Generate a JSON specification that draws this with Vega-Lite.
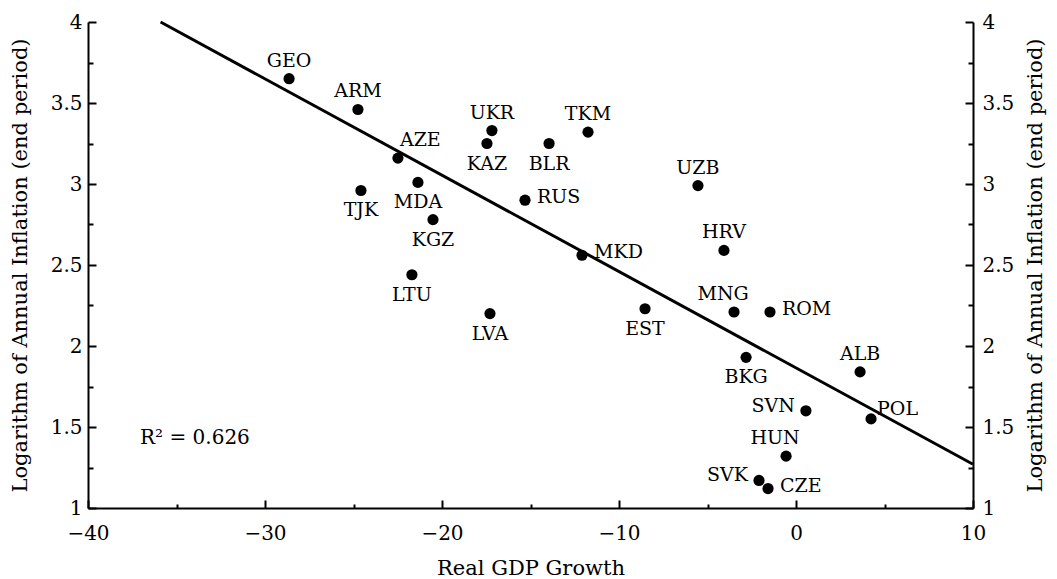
{
  "$schema": "https://vega.github.io/schema/vega-lite/v6.json",
  "width": 885,
  "height": 486,
  "autosize": {"type": "none"},
  "padding": {"left": 88, "top": 22, "right": 84, "bottom": 71},
  "background": "white",
  "config": {
    "view": {"stroke": null},
    "font": "DejaVu Serif",
    "axis": {
      "grid": false,
      "labelFlush": false,
      "domainColor": "black",
      "domainWidth": 2,
      "tickColor": "black",
      "tickWidth": 2,
      "labelColor": "black",
      "labelFont": "DejaVu Serif",
      "labelFontSize": 20,
      "titleFont": "DejaVu Serif",
      "titleFontSize": 21,
      "titleFontWeight": "normal",
      "titleColor": "black"
    },
    "text": {"font": "DejaVu Serif", "fontSize": 19, "color": "black"}
  },
  "datasets": {
    "countries": [
      {"code": "GEO", "growth": -28.64, "infl": 3.65, "pos": "above"},
      {"code": "ARM", "growth": -24.75, "infl": 3.46, "pos": "above"},
      {"code": "AZE", "growth": -22.49, "infl": 3.16, "pos": "ne"},
      {"code": "UKR", "growth": -17.18, "infl": 3.33, "pos": "above"},
      {"code": "KAZ", "growth": -17.46, "infl": 3.25, "pos": "below"},
      {"code": "TJK", "growth": -24.58, "infl": 2.96, "pos": "below"},
      {"code": "MDA", "growth": -21.36, "infl": 3.01, "pos": "below"},
      {"code": "KGZ", "growth": -20.51, "infl": 2.78, "pos": "below"},
      {"code": "LTU", "growth": -21.7, "infl": 2.44, "pos": "below"},
      {"code": "LVA", "growth": -17.29, "infl": 2.2, "pos": "below"},
      {"code": "RUS", "growth": -15.31, "infl": 2.9, "pos": "right"},
      {"code": "TKM", "growth": -11.75, "infl": 3.32, "pos": "above"},
      {"code": "BLR", "growth": -13.95, "infl": 3.25, "pos": "below"},
      {"code": "UZB", "growth": -5.54, "infl": 2.99, "pos": "above"},
      {"code": "HRV", "growth": -4.07, "infl": 2.59, "pos": "above"},
      {"code": "MKD", "growth": -12.09, "infl": 2.56, "pos": "right"},
      {"code": "EST", "growth": -8.53, "infl": 2.23, "pos": "below"},
      {"code": "MNG", "growth": -3.5, "infl": 2.21, "pos": "aboveleft"},
      {"code": "ROM", "growth": -1.47, "infl": 2.21, "pos": "right"},
      {"code": "BKG", "growth": -2.82, "infl": 1.93, "pos": "below"},
      {"code": "ALB", "growth": 3.62, "infl": 1.84, "pos": "above"},
      {"code": "SVN", "growth": 0.56, "infl": 1.6, "pos": "left"},
      {"code": "POL", "growth": 4.24, "infl": 1.55, "pos": "ene"},
      {"code": "HUN", "growth": -0.56, "infl": 1.32, "pos": "aboveleft"},
      {"code": "SVK", "growth": -2.09, "infl": 1.17, "pos": "left"},
      {"code": "CZE", "growth": -1.58, "infl": 1.12, "pos": "right"}
    ],
    "fit": [
      {"growth": -35.9, "infl": 4.0},
      {"growth": 10, "infl": 1.27}
    ],
    "note": [
      {"growth": -37.06, "infl": 1.43, "label": "R² = 0.626"}
    ]
  },
  "data": {"name": "countries"},
  "resolve": {"axis": {"x": "independent", "y": "independent"}},
  "layer": [
    {
      "data": {"name": "fit"},
      "mark": {"type": "line", "color": "black", "strokeWidth": 3},
      "encoding": {
        "x": {
          "field": "growth", "type": "quantitative",
          "scale": {"domain": [-40, 10], "nice": false, "zero": false},
          "axis": {
            "orient": "bottom",
            "values": [-40, -30, -20, -10, 0, 10],
            "format": "d",
            "tickSize": -8,
            "labelPadding": 23,
            "title": "Real GDP Growth",
            "titleX": 442.5,
            "titleY": 60,
            "titleBaseline": "middle",
            "titleAlign": "center"
          }
        },
        "y": {
          "field": "infl", "type": "quantitative",
          "scale": {"domain": [1, 4], "nice": false, "zero": false},
          "axis": {
            "orient": "left",
            "values": [1, 1.5, 2, 2.5, 3, 3.5, 4],
            "format": "~g",
            "tickSize": -8,
            "labelPadding": 14,
            "title": "Logarithm of Annual Inflation (end period)",
            "titleAngle": -90,
            "titleX": -68,
            "titleY": 243,
            "titleBaseline": "middle",
            "titleAlign": "center"
          }
        }
      }
    },
    {
      "mark": {"type": "circle", "size": 125, "color": "black", "opacity": 1},
      "encoding": {
        "x": {
          "field": "growth", "type": "quantitative",
          "scale": {"domain": [-40, 10], "nice": false, "zero": false},
          "axis": {
            "orient": "bottom",
            "values": [-35, -25, -15, -5, 5],
            "tickSize": -4,
            "labels": false,
            "domain": false,
            "title": null
          }
        },
        "y": {
          "field": "infl", "type": "quantitative",
          "scale": {"domain": [1, 4], "nice": false, "zero": false},
          "axis": {
            "orient": "left",
            "values": [1.25, 1.75, 2.25, 2.75, 3.25, 3.75],
            "tickSize": -5,
            "labels": false,
            "domain": false,
            "title": null
          }
        }
      }
    },
    {
      "data": {"name": "note"},
      "mark": {"type": "text", "align": "left", "baseline": "middle", "fontSize": 20},
      "encoding": {
        "text": {"field": "label"},
        "x": {
          "field": "growth", "type": "quantitative",
          "scale": {"domain": [-40, 10], "nice": false, "zero": false},
          "axis": null
        },
        "y": {
          "field": "infl", "type": "quantitative",
          "scale": {"domain": [1, 4], "nice": false, "zero": false},
          "axis": {
            "orient": "right",
            "values": [1, 1.5, 2, 2.5, 3, 3.5, 4],
            "format": "~g",
            "tickSize": -8,
            "labelPadding": 17,
            "title": "Logarithm of Annual Inflation (end period)",
            "titleAngle": -90,
            "titleX": 62,
            "titleY": 243,
            "titleBaseline": "middle",
            "titleAlign": "center"
          }
        }
      }
    },
    {
      "transform": [{"filter": "datum.pos === 'above'"}],
      "mark": {"type": "text", "align": "center", "baseline": "middle", "dy": -18},
      "encoding": {
        "text": {"field": "code"},
        "x": {"field": "growth", "type": "quantitative", "scale": {"domain": [-40, 10], "nice": false, "zero": false}, "axis": null},
        "y": {
          "field": "infl", "type": "quantitative",
          "scale": {"domain": [1, 4], "nice": false, "zero": false},
          "axis": {
            "orient": "right",
            "values": [1.25, 1.75, 2.25, 2.75, 3.25, 3.75],
            "tickSize": -5,
            "labels": false,
            "domain": false,
            "title": null
          }
        }
      }
    },
    {
      "transform": [{"filter": "datum.pos === 'aboveleft'"}],
      "mark": {"type": "text", "align": "center", "baseline": "middle", "dx": -11, "dy": -18},
      "encoding": {
        "text": {"field": "code"},
        "x": {"field": "growth", "type": "quantitative", "scale": {"domain": [-40, 10], "nice": false, "zero": false}, "axis": null},
        "y": {"field": "infl", "type": "quantitative", "scale": {"domain": [1, 4], "nice": false, "zero": false}, "axis": null}
      }
    },
    {
      "transform": [{"filter": "datum.pos === 'below'"}],
      "mark": {"type": "text", "align": "center", "baseline": "middle", "dy": 20},
      "encoding": {
        "text": {"field": "code"},
        "x": {"field": "growth", "type": "quantitative", "scale": {"domain": [-40, 10], "nice": false, "zero": false}, "axis": null},
        "y": {"field": "infl", "type": "quantitative", "scale": {"domain": [1, 4], "nice": false, "zero": false}, "axis": null}
      }
    },
    {
      "transform": [{"filter": "datum.pos === 'right'"}],
      "mark": {"type": "text", "align": "left", "baseline": "middle", "dx": 12, "dy": -3},
      "encoding": {
        "text": {"field": "code"},
        "x": {"field": "growth", "type": "quantitative", "scale": {"domain": [-40, 10], "nice": false, "zero": false}, "axis": null},
        "y": {"field": "infl", "type": "quantitative", "scale": {"domain": [1, 4], "nice": false, "zero": false}, "axis": null}
      }
    },
    {
      "transform": [{"filter": "datum.pos === 'left'"}],
      "mark": {"type": "text", "align": "right", "baseline": "middle", "dx": -11, "dy": -5},
      "encoding": {
        "text": {"field": "code"},
        "x": {"field": "growth", "type": "quantitative", "scale": {"domain": [-40, 10], "nice": false, "zero": false}, "axis": null},
        "y": {"field": "infl", "type": "quantitative", "scale": {"domain": [1, 4], "nice": false, "zero": false}, "axis": null}
      }
    },
    {
      "transform": [{"filter": "datum.pos === 'ne'"}],
      "mark": {"type": "text", "align": "left", "baseline": "middle", "dx": 2, "dy": -18},
      "encoding": {
        "text": {"field": "code"},
        "x": {"field": "growth", "type": "quantitative", "scale": {"domain": [-40, 10], "nice": false, "zero": false}, "axis": null},
        "y": {"field": "infl", "type": "quantitative", "scale": {"domain": [1, 4], "nice": false, "zero": false}, "axis": null}
      }
    },
    {
      "transform": [{"filter": "datum.pos === 'ene'"}],
      "mark": {"type": "text", "align": "left", "baseline": "middle", "dx": 6, "dy": -10},
      "encoding": {
        "text": {"field": "code"},
        "x": {"field": "growth", "type": "quantitative", "scale": {"domain": [-40, 10], "nice": false, "zero": false}, "axis": null},
        "y": {"field": "infl", "type": "quantitative", "scale": {"domain": [1, 4], "nice": false, "zero": false}, "axis": null}
      }
    }
  ]
}
